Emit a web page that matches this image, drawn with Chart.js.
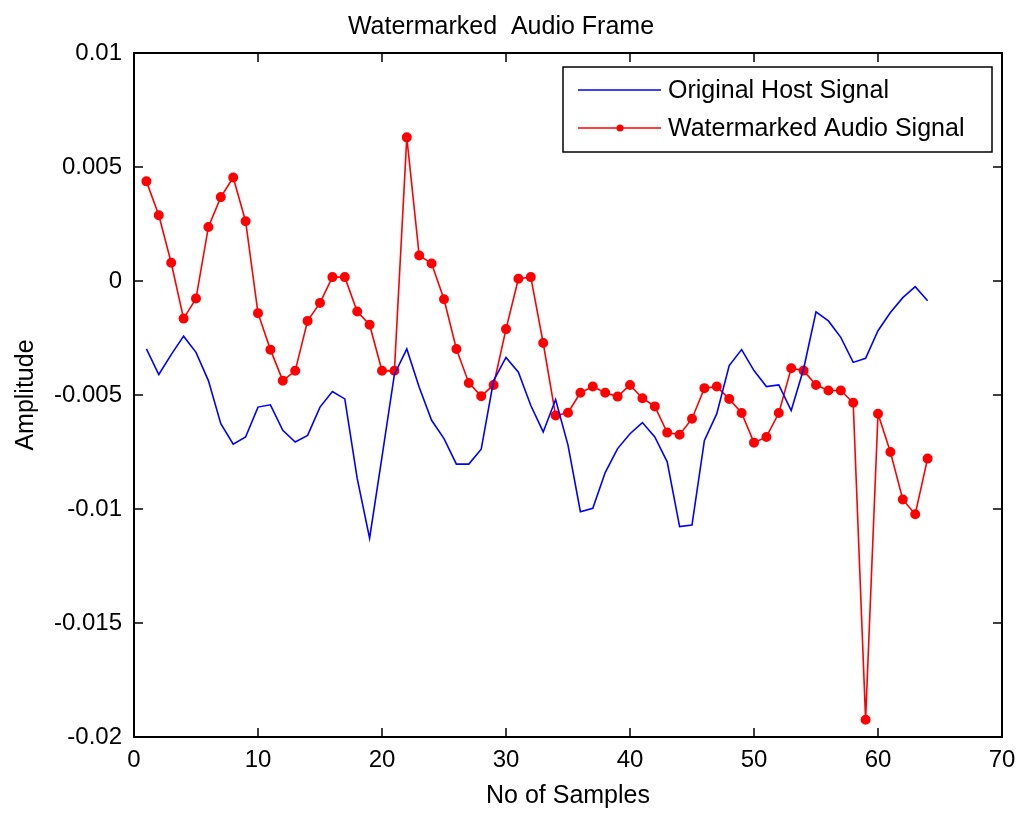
<!DOCTYPE html>
<html>
	<head>
		<meta charset="UTF-8" />
		<title>Watermarked Audio Frame</title>
		<script src="https://cdn.jsdelivr.net/npm/chart.js"></script>
		<style>
			body { margin: 0; background: #fff; }
		</style>
	</head>
	<body>
		<canvas id="myChart" width="1021" height="815"></canvas>

		<script>
			// sample index (x)
			const samples = [1, 2, 3, 4, 5, 6, 7, 8, 9, 10, 11, 12, 13, 14, 15, 16,
			  17, 18, 19, 20, 21, 22, 23, 24, 25, 26, 27, 28, 29, 30, 31, 32,
			  33, 34, 35, 36, 37, 38, 39, 40, 41, 42, 43, 44, 45, 46, 47, 48,
			  49, 50, 51, 52, 53, 54, 55, 56, 57, 58, 59, 60, 61, 62, 63, 64];

			// original host signal (blue)
			const hostSignal = [-0.00298, -0.00410, -0.00323, -0.00242, -0.00313, -0.00437, -0.00626, -0.00716,
			  -0.00684, -0.00553, -0.00543, -0.00655, -0.00706, -0.00677, -0.00553, -0.00485,
			  -0.00517, -0.00866, -0.01128, -0.00771, -0.00410, -0.00298, -0.00466, -0.00611,
			  -0.00691, -0.00803, -0.00803, -0.00738, -0.00437, -0.00335, -0.00400, -0.00546,
			  -0.00662, -0.00520, -0.00720, -0.01012, -0.00997, -0.00840, -0.00735, -0.00670,
			  -0.00621, -0.00684, -0.00793, -0.01077, -0.01070, -0.00699, -0.00582, -0.00371,
			  -0.00301, -0.00393, -0.00463, -0.00456, -0.00568, -0.00386, -0.00135, -0.00175,
			  -0.00247, -0.00357, -0.00339, -0.00218, -0.00138, -0.00073, -0.00025, -0.00087];

			// watermarked audio signal (red, with markers)
			const watermarked = [0.00437, 0.00288, 0.00080, -0.00165, -0.00077, 0.00237, 0.00368, 0.00454,
			  0.00262, -0.00141, -0.00301, -0.00437, -0.00394, -0.00175, -0.00096, 0.00017,
			  0.00017, -0.00134, -0.00192, -0.00394, -0.00394, 0.00630, 0.00112, 0.00077,
			  -0.00080, -0.00298, -0.00447, -0.00505, -0.00456, -0.00211, 0.00010, 0.00017,
			  -0.00272, -0.00590, -0.00578, -0.00490, -0.00463, -0.00490, -0.00507, -0.00456,
			  -0.00514, -0.00550, -0.00665, -0.00674, -0.00604, -0.00470, -0.00463, -0.00517,
			  -0.00579, -0.00709, -0.00684, -0.00579, -0.00383, -0.00393, -0.00456, -0.00480,
			  -0.00480, -0.00534, -0.01924, -0.00582, -0.00750, -0.00958, -0.01023, -0.00779];

			const seriesLabels = ['Original Host Signal', 'Watermarked Audio Signal'];

			const FONT = 'Arial, "Liberation Sans", Helvetica, sans-serif';

			// box around the axes + inward tick marks (like matlab)
			const boxPlugin = {
			  id: 'box',
			  afterDatasetsDraw(chart) {
			    const ctx = chart.ctx;
			    const a = chart.chartArea;
			    const xs = chart.scales.x;
			    const ys = chart.scales.y;
			    const tl = 9;
			    ctx.save();
			    ctx.strokeStyle = '#000';
			    ctx.lineWidth = 1.5;
			    ctx.beginPath();
			    xs.ticks.forEach(t => {
			      const px = xs.getPixelForValue(t.value);
			      ctx.moveTo(px, a.bottom); ctx.lineTo(px, a.bottom - tl);
			      ctx.moveTo(px, a.top); ctx.lineTo(px, a.top + tl);
			    });
			    ys.ticks.forEach(t => {
			      const py = ys.getPixelForValue(t.value);
			      ctx.moveTo(a.left, py); ctx.lineTo(a.left + tl, py);
			      ctx.moveTo(a.right, py); ctx.lineTo(a.right - tl, py);
			    });
			    ctx.stroke();
			    ctx.lineWidth = 2;
			    ctx.strokeRect(a.left, a.top, a.right - a.left, a.bottom - a.top);
			    ctx.restore();
			  }
			};

			// legend box in the top right corner of the plot
			const legendPlugin = {
			  id: 'boxLegend',
			  afterDraw(chart) {
			    const ctx = chart.ctx;
			    const a = chart.chartArea;
			    const w = 429, h = 85;
			    const x0 = a.right - 10 - w;
			    const y0 = a.top + 14;
			    ctx.save();
			    ctx.fillStyle = '#fff';
			    ctx.fillRect(x0, y0, w, h);
			    ctx.strokeStyle = '#000';
			    ctx.lineWidth = 1.5;
			    ctx.strokeRect(x0, y0, w, h);
			    ctx.font = '25px ' + FONT;
			    ctx.textBaseline = 'middle';
			    chart.data.datasets.forEach((ds, i) => {
			      const y = y0 + 23 + i * 38;
			      ctx.strokeStyle = ds.borderColor;
			      ctx.lineWidth = 1.6;
			      ctx.beginPath();
			      ctx.moveTo(x0 + 15, y);
			      ctx.lineTo(x0 + 98, y);
			      ctx.stroke();
			      if (ds.pointRadius > 0) {
			        ctx.fillStyle = ds.pointBackgroundColor;
			        ctx.beginPath();
			        ctx.arc(x0 + 57, y, 3.5, 0, Math.PI * 2);
			        ctx.fill();
			      }
			      ctx.fillStyle = '#000';
			      ctx.fillText(ds.label, x0 + 105, y + 1);
			    });
			    ctx.restore();
			  }
			};

			const ctx = document.getElementById('myChart').getContext('2d');
			new Chart(ctx, {
			  type: 'line',
			  data: {
			    datasets: [
			      {
			        label: seriesLabels[0],
			        data: samples.map((s, i) => ({ x: s, y: hostSignal[i] })),
			        borderColor: '#0000ff',
			        borderWidth: 1.6,
			        pointRadius: 0,
			        tension: 0,
			        fill: false
			      },
			      {
			        label: seriesLabels[1],
			        data: samples.map((s, i) => ({ x: s, y: watermarked[i] })),
			        borderColor: '#ff0000',
			        backgroundColor: '#ff0000',
			        pointBackgroundColor: '#ff0000',
			        pointBorderColor: '#ff0000',
			        borderWidth: 1.6,
			        pointRadius: 4.2,
			        pointStyle: 'circle',
			        tension: 0,
			        fill: false
			      }
			    ]
			  },
			  options: {
			    responsive: false,
			    animation: false,
			    layout: { padding: { left: 0, right: 19, top: 0, bottom: 0 } },
			    plugins: {
			      legend: { display: false },
			      tooltip: { enabled: false },
			      title: {
			        display: true,
			        text: 'Watermarked  Audio Frame',
			        color: '#000',
			        font: { family: FONT, size: 25, weight: 'normal', lineHeight: 1.2 },
			        padding: { top: 12, bottom: 11 }
			      }
			    },
			    scales: {
			      x: {
			        type: 'linear',
			        min: 0,
			        max: 70,
			        ticks: { stepSize: 10, color: '#000', padding: 9, font: { family: FONT, size: 24 } },
			        grid: { display: false, drawTicks: false },
			        border: { display: false },
			        title: {
			          display: true,
			          text: 'No of Samples',
			          color: '#000',
			          font: { family: FONT, size: 25, lineHeight: 1.2 },
			          padding: { top: 0, bottom: 4 }
			        },
			        afterFit(scale) {
			          scale.height = 78;
			          scale.paddingLeft = 0;
			          scale.paddingRight = 0;
			        }
			      },
			      y: {
			        min: -0.02,
			        max: 0.01,
			        ticks: {
			          stepSize: 0.005,
			          color: '#000',
			          padding: 12,
			          font: { family: FONT, size: 24 },
			          callback: v => String(Number(v.toFixed(3)))
			        },
			        grid: { display: false, drawTicks: false },
			        border: { display: false },
			        title: {
			          display: true,
			          text: 'Amplitude',
			          color: '#000',
			          font: { family: FONT, size: 25, lineHeight: 1.2 },
			          padding: { top: 11, bottom: 0 }
			        },
			        afterFit(scale) { scale.width = 134; }
			      }
			    }
			  },
			  plugins: [boxPlugin, legendPlugin]
			});
		</script>
	</body>
</html>
